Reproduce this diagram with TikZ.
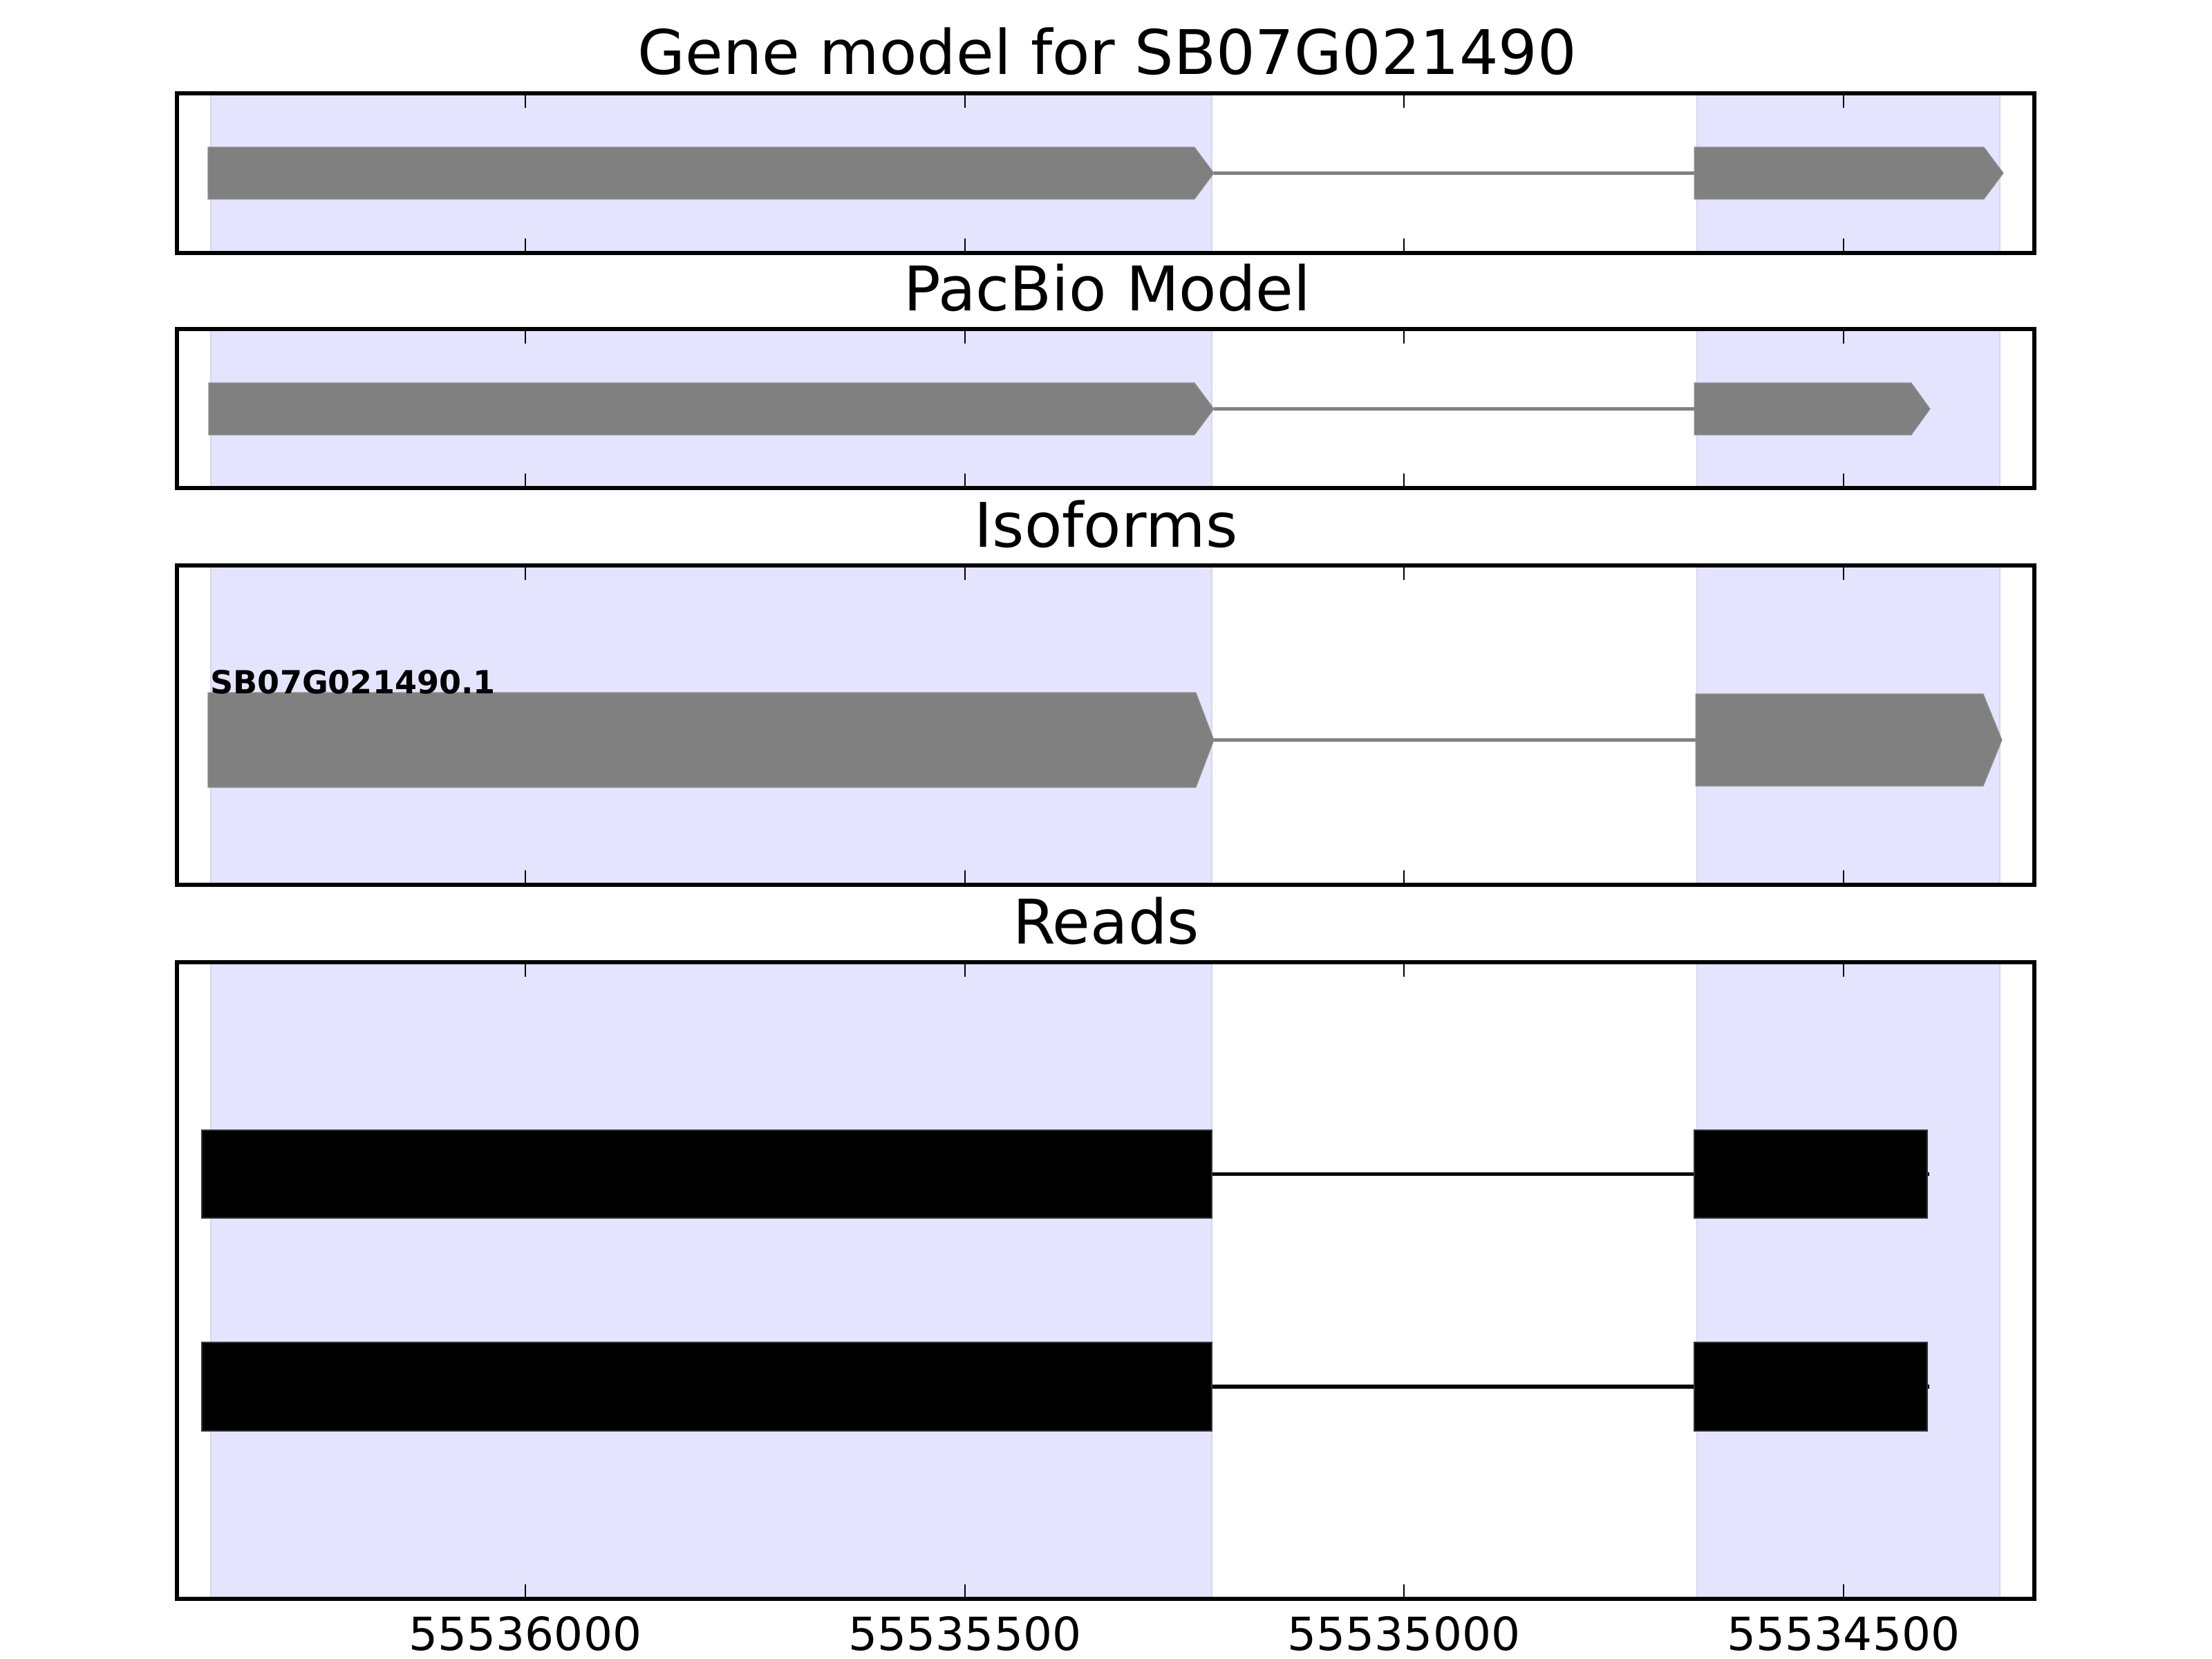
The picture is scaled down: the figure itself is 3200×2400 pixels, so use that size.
\documentclass[tikz,border=0pt]{standalone}
\usepackage{fontspec}
\setmainfont{DejaVu Sans}
\definecolor{spanfill}{RGB}{228,228,255}
\definecolor{spanedge}{RGB}{214,214,238}
\definecolor{exongray}{RGB}{128,128,128}
\definecolor{readedge}{RGB}{50,50,60}
\begin{document}
\begin{tikzpicture}[x=0.01cm,y=-0.01cm,
  spanbox/.style={fill=spanfill,draw=spanedge,line width=0.8pt},
  exonshape/.style={fill=exongray,draw=exongray!90!white,line width=0.3pt},
  intronline/.style={draw=exongray,line width=1.45pt},
  readbox/.style={fill=black,draw=readedge,line width=0.5pt},
  readline/.style={draw=black,line width=1.45pt},
  spine/.style={draw=black,line width=1.45pt},
  tickmark/.style={draw=black,line width=0.8pt},
  paneltitle/.style={font=\fontsize{25.3}{30}\selectfont,anchor=base,inner sep=0pt},
  ticklabel/.style={font=\fontsize{18.8}{22}\selectfont,anchor=base,inner sep=0pt},
  isolabel/.style={font=\fontsize{13.1}{15}\selectfont\bfseries,anchor=base west,inner sep=0pt}]
\useasboundingbox (0,0) rectangle (3200,2400);
\fill[white] (0,0) rectangle (3200,2400);

% ---------- shaded exon regions ----------
\foreach \T/\B in {135/366,476/706,818/1280,1392/2313}{
  \path[spanbox] (305,\T) rectangle (1753,\B);
  \path[spanbox] (2455,\T) rectangle (2893,\B);
}

% ---------- Panel 1: gene model ----------
\coordinate (g1tip) at (1756,250.5);
\coordinate (g2start) at (2451,250.5);
\draw[intronline] (g1tip) -- (g2start);
\path[exonshape] (301,213) -- (1728,213) -- (g1tip) -- (1728,288) -- (301,288) -- cycle;
\path[exonshape] (2451,213) -- (2870,213) -- (2898,250.5) -- (2870,288) -- (2451,288) -- cycle;

% ---------- Panel 2: PacBio model ----------
\coordinate (p1tip) at (1756,591.5);
\coordinate (p2start) at (2451,591.5);
\draw[intronline] (p1tip) -- (p2start);
\path[exonshape] (302,554) -- (1728,554) -- (p1tip) -- (1728,629) -- (302,629) -- cycle;
\path[exonshape] (2451,554) -- (2765,554) -- (2792,591.5) -- (2765,629) -- (2451,629) -- cycle;

% ---------- Panel 3: isoforms ----------
\coordinate (i1tip) at (1756,1070.5);
\coordinate (i2start) at (2453,1070.5);
\draw[intronline] (i1tip) -- (i2start);
\path[exonshape] (301,1002) -- (1730,1002) -- (i1tip) -- (1730,1139) -- (301,1139) -- cycle;
\path[exonshape] (2453,1004) -- (2869,1004) -- (2896,1070.5) -- (2869,1137) -- (2453,1137) -- cycle;
\node[isolabel] (isoname) at (304,1003) {SB07G021490.1};

% ---------- Panel 4: reads ----------
\coordinate (r1a) at (292,1698.5);
\coordinate (r1b) at (2791,1698.5);
\draw[readline] (r1a) -- (r1b);
\path[readbox] (292,1635) rectangle (1753,1762);
\path[readbox] (2451,1635) rectangle (2788,1762);

\coordinate (r2a) at (292,2006);
\coordinate (r2b) at (2791,2006);
\draw[readline] (r2a) -- (r2b);
\path[readbox] (292,1942) rectangle (1753,2070);
\path[readbox] (2451,1942) rectangle (2788,2070);

% ---------- frames and ticks ----------
\foreach \T/\B in {135/366,476/706,818/1280,1392/2313}{
  \foreach \x in {760,1396,2031,2667}{
    \draw[tickmark] (\x,\T) -- (\x,\T+21);
    \draw[tickmark] (\x,\B) -- (\x,\B-21);
  }
  \draw[spine] (256,\T) rectangle (2943,\B);
}

% ---------- titles ----------
\node[paneltitle] (t1) at (1602,108) {Gene model for SB07G021490};
\node[paneltitle] (t2) at (1602,449) {PacBio Model};
\node[paneltitle] (t3) at (1600,791) {Isoforms};
\node[paneltitle] (t4) at (1600,1365) {Reads};

% ---------- tick labels ----------
\node[ticklabel] (l1) at (760,2387) {55536000};
\node[ticklabel] (l2) at (1396,2387) {55535500};
\node[ticklabel] (l3) at (2031,2387) {55535000};
\node[ticklabel] (l4) at (2667,2387) {55534500};
\end{tikzpicture}
\end{document}
